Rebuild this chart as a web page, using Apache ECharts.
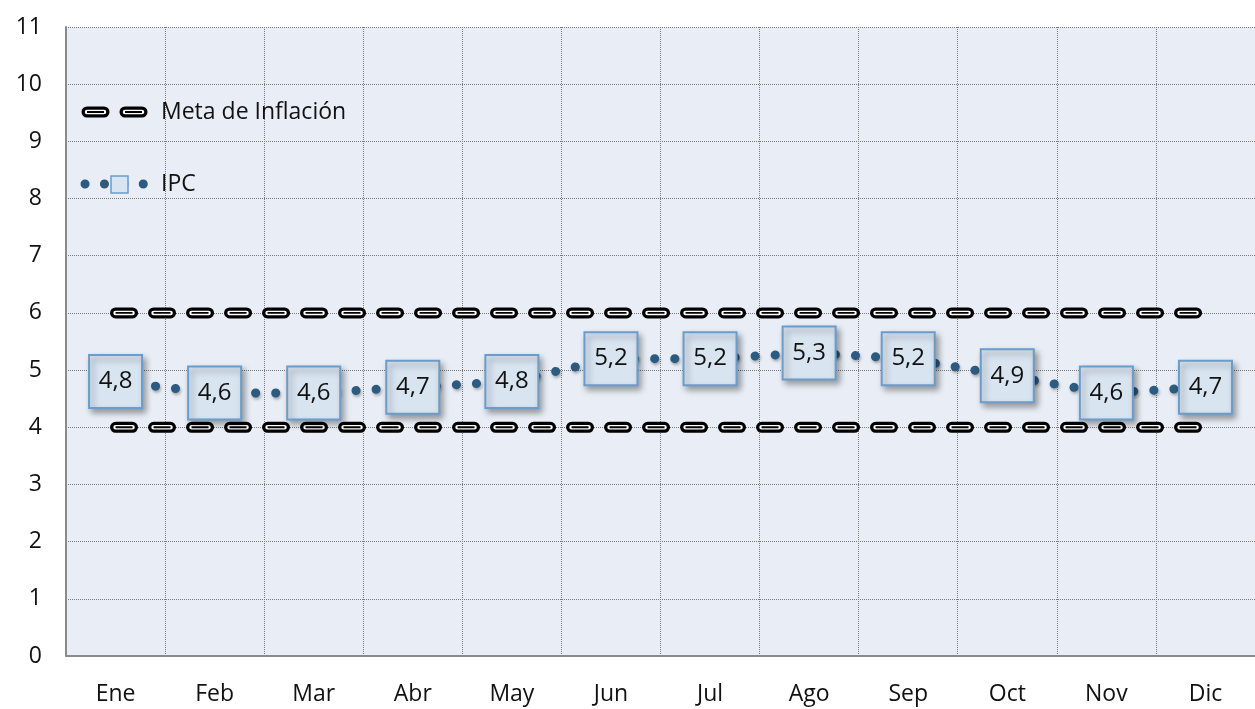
<!DOCTYPE html>
<html>
<head>
<meta charset="utf-8">
<script src="https://cdn.jsdelivr.net/npm/echarts@6/dist/echarts.min.js"></script>
<style>
  html, body { margin: 0; padding: 0; background: #fff; }
  #chart { width: 1255px; height: 709px; }
</style>
</head>
<body>
<div id="chart"></div>
<script>
  // datos
  var meses = ['Ene', 'Feb', 'Mar', 'Abr', 'May', 'Jun', 'Jul', 'Ago', 'Sep', 'Oct', 'Nov', 'Dic'];
  var ipc = [4.8, 4.6, 4.6, 4.7, 4.8, 5.2, 5.2, 5.3, 5.2, 4.9, 4.6, 4.7];
  var metaSup = [6, 6, 6, 6, 6, 6, 6, 6, 6, 6, 6, 6];
  var metaInf = [4, 4, 4, 4, 4, 4, 4, 4, 4, 4, 4, 4];
  var yTicks = [0, 1, 2, 3, 4, 5, 6, 7, 8, 9, 10, 11];

  var fuente = '"Open Sans", Lato, sans-serif';
  var azulPunto = '#2c5a80';

  var chart = echarts.init(document.getElementById('chart'));

  // la meta se dibuja en 3 capas: contorno negro, relleno blanco, linea central
  var capasMeta = [
    {width: 11, color: '#000', cap: 'round'},
    {width: 4.5, color: '#fff', cap: 'round'},
    {width: 1.8, color: '#000', cap: 'butt'}
  ];

  function metaLayers(name, data) {
    return capasMeta.map(function (c, i) {
      return {
        name: i === 0 ? name : name + '_' + i,
        type: 'line',
        data: data,
        symbol: 'none',
        silent: true,
        z: 3,
        lineStyle: {
          color: c.color,
          width: c.width,
          type: [17, 21],
          cap: c.cap
        }
      };
    });
  }

  var series = []
    .concat(metaLayers('Meta de Inflación', metaSup))
    .concat(metaLayers('Meta inf', metaInf));

  series.push({
    name: 'IPC',
    type: 'line',
    data: ipc,
    z: 5,
    symbol: 'rect',
    symbolSize: 53,
    itemStyle: {
      color: '#d8e4f0',
      borderColor: '#6a9ccc',
      borderWidth: 2,
      shadowBlur: 6,
      shadowOffsetX: 3,
      shadowOffsetY: 4,
      shadowColor: 'rgba(0,0,0,0.35)'
    },
    lineStyle: {
      color: azulPunto,
      width: 9,
      type: [0.1, 20],
      cap: 'round',
      shadowBlur: 3,
      shadowOffsetX: 1,
      shadowOffsetY: 2,
      shadowColor: 'rgba(0,0,0,0.3)'
    },
    label: {
      show: true,
      position: 'inside',
      fontFamily: fuente,
      fontSize: 24,
      color: '#111',
      formatter: function (p) {
        return String(p.value.toFixed(1)).replace('.', ',');
      }
    }
  });

  chart.setOption({
    animation: false,
    grid: {
      left: 66,
      right: -6,
      top: 27,
      bottom: 53,
      show: true,
      backgroundColor: '#e9eef6',
      borderWidth: 0
    },
    xAxis: {
      type: 'category',
      data: meses,
      boundaryGap: true,
      axisLine: {show: true, lineStyle: {color: '#8a8a8a', width: 2}},
      axisTick: {show: false},
      axisLabel: {
        fontFamily: fuente,
        fontSize: 23,
        color: '#111',
        margin: 27
      },
      splitLine: {
        show: true,
        interval: 0,
        lineStyle: {type: 'dotted', color: '#7a7a7a', width: 1}
      }
    },
    yAxis: {
      type: 'value',
      min: yTicks[0],
      max: yTicks[yTicks.length - 1],
      interval: 1,
      axisLine: {show: true, lineStyle: {color: '#8a8a8a', width: 2}},
      axisTick: {show: false},
      axisLabel: {
        fontFamily: fuente,
        fontSize: 23,
        color: '#111',
        margin: 24
      },
      splitLine: {
        show: true,
        lineStyle: {type: 'dotted', color: '#7a7a7a', width: 1}
      }
    },
    // leyenda dibujada a mano
    graphic: capasMeta.map(function (c, i) {
      return {
        type: 'line', z: 10 + i, shape: {x1: 87, y1: 112, x2: 143, y2: 112},
        style: {stroke: c.color, lineWidth: c.width, lineDash: [17, 21], lineCap: c.cap}
      };
    }).concat([
      {type: 'text', z: 12, x: 161, y: 112,
        style: {text: 'Meta de Inflación', font: '23px ' + fuente, fill: '#111', verticalAlign: 'middle'}},
      {type: 'line', z: 10, shape: {x1: 85, y1: 184, x2: 145, y2: 184},
        style: {stroke: azulPunto, lineWidth: 9, lineDash: [0.1, 19.3], lineCap: 'round'}},
      {type: 'rect', z: 11, shape: {x: 111, y: 176, width: 17, height: 17},
        style: {fill: '#d8e4f0', stroke: '#6a9ccc', lineWidth: 1.5}},
      {type: 'text', z: 12, x: 161, y: 184,
        style: {text: 'IPC', font: '23px ' + fuente, fill: '#111', verticalAlign: 'middle'}}
    ]),
    series: series
  });
</script>
</body>
</html>
